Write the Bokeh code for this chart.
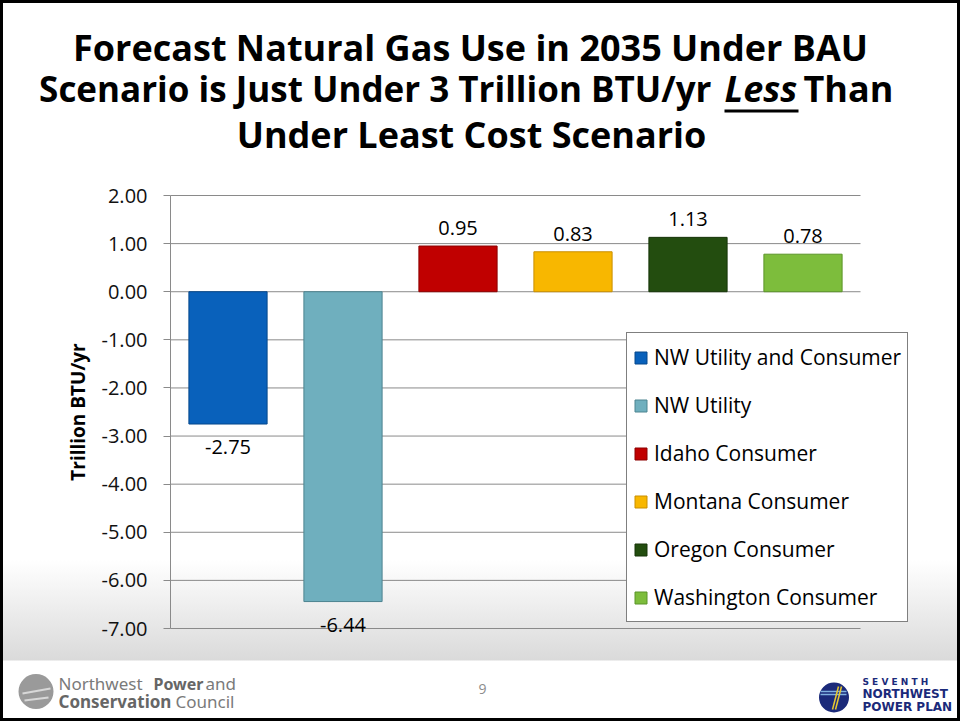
from bokeh.plotting import figure
from bokeh.models import (ColumnDataSource, LabelSet, Range1d, LinearAxis,
                          NumeralTickFormatter, FixedTicker)
from bokeh.core.properties import value
from bokeh.embed import file_html
from bokeh.resources import INLINE

# ---------------- data ----------------
categories = ["NW Utility and Consumer", "NW Utility", "Idaho Consumer",
              "Montana Consumer", "Oregon Consumer", "Washington Consumer"]
values = [-2.75, -6.44, 0.95, 0.83, 1.13, 0.78]
y_ticks = [2, 1, 0, -1, -2, -3, -4, -5, -6, -7]
y_label = "Trillion BTU/yr"
title_line1 = "Forecast Natural Gas Use in 2035 Under BAU"
title_line2a = "Scenario is Just Under 3 Trillion BTU/yr"
title_line2b = "Less"
title_line2c = "Than"
title_line3 = "Under Least Cost Scenario"
page_number = "9"

# ---------------- styles / layout ----------------
fill_colors = ["#0961bb", "#6fafbe", "#c00000", "#f8b700", "#234d0f", "#7dbd3c"]
edge_colors = ["#06488c", "#4d8490", "#8c0000", "#c98f00", "#163508", "#5b9428"]
W, H = 960, 721
PLOT_LEFT, PLOT_TOP, PLOT_BOTTOM = 170, 195, 628   # page pixels of the value axis
CAT_PX = 115                                        # pixels per category
px_per_unit = (PLOT_BOTTOM - PLOT_TOP) / (max(y_ticks) - min(y_ticks))
y_hi = max(y_ticks) + PLOT_TOP / px_per_unit
y_lo = min(y_ticks) - (H - PLOT_BOTTOM) / px_per_unit
x_lo = 0.5 - PLOT_LEFT / CAT_PX
x_hi = 0.5 + (W - PLOT_LEFT) / CAT_PX

p = figure(width=W, height=H,
           x_range=Range1d(x_lo, x_hi), y_range=Range1d(y_lo, y_hi),
           x_axis_location=None, y_axis_location=None,
           output_backend="svg", toolbar_location=None,
           min_border=0, border_fill_color=None, background_fill_color=None,
           outline_line_color=None,
           styles={"background": "linear-gradient(to bottom, #ffffff 0px, #ffffff 560px, #dadada 660px, #ffffff 661px, #ffffff 100%)",
                   "box-shadow": "inset 0 0 0 3px #000000"})
p.extra_x_ranges = {"px": Range1d(0, W)}
p.extra_y_ranges = {"px": Range1d(H, 0)}
p.grid.visible = False

n = len(categories)
xs = list(range(1, n + 1))

# horizontal gridlines
p.segment(x0=[0.5] * len(y_ticks), x1=[n + 0.5] * len(y_ticks), y0=y_ticks, y1=y_ticks,
          line_color="#8a8a8a", line_width=1, level="underlay")

ax = LinearAxis(fixed_location=0.5)
ax.ticker = FixedTicker(ticks=y_ticks)
ax.bounds = (min(y_ticks), max(y_ticks))
ax.formatter = NumeralTickFormatter(format="0.00")
ax.axis_line_color = "#8a8a8a"
ax.major_tick_line_color = "#8a8a8a"
ax.major_tick_out = 7
ax.major_tick_in = 0
ax.minor_tick_line_color = None
ax.major_label_text_font = "Open Sans"
ax.major_label_text_font_size = "20px"
ax.major_label_text_color = "#111111"
ax.major_label_standoff = 16
ax.axis_label = y_label
ax.axis_label_text_font = "Open Sans"
ax.axis_label_text_font_style = "bold"
ax.axis_label_text_font_size = "19px"
ax.axis_label_text_color = "#000000"
ax.axis_label_standoff = 8
p.add_layout(ax, "left")

src = ColumnDataSource(dict(x=xs, cat=categories, val=values, fill=fill_colors, edge=edge_colors))
p.vbar(x="x", top="val", bottom=0, width=0.68, fill_color="fill",
       line_color="edge", line_width=1, source=src, legend_field="cat")

lg = p.legend[0]
lg.location = (626, H - 622)
lg.border_line_color = "#000000"
lg.border_line_width = 1
lg.background_fill_color = "#ffffff"
lg.background_fill_alpha = 1
lg.padding = 6
lg.margin = 0
lg.spacing = 12
lg.label_height = 36
lg.glyph_height = 15
lg.glyph_width = 15
lg.label_standoff = 6
lg.label_text_font = "Open Sans"
lg.label_text_font_size = "21px"
lg.label_text_color = "#000000"

pos_x = [x for x, v in zip(xs, values) if v >= 0]
pos_v = [v for v in values if v >= 0]
neg_x = [x for x, v in zip(xs, values) if v < 0]
neg_v = [v for v in values if v < 0]
pos_src = ColumnDataSource(dict(x=pos_x, val=pos_v, txt=[f"{v:.2f}" for v in pos_v]))
neg_src = ColumnDataSource(dict(x=neg_x, val=neg_v, txt=[f"{v:.2f}" for v in neg_v]))
for s, off in ((pos_src, 11), (neg_src, -30)):
    p.add_layout(LabelSet(x="x", y="val", text="txt", source=s, y_offset=off,
                          text_align="center", text_baseline="alphabetic",
                          text_font=value("Open Sans"), text_font_size="20px",
                          text_color="#000000"))


# ---------------- decorations in page-pixel coordinates ----------------
def txt(x, y, t, size, style="normal", align="left", color="#000000",
        font="Open Sans", baseline="alphabetic"):
    p.text(x=[x], y=[y], text=[t], text_font=value(font), text_font_size=value(size),
           text_font_style=value(style), text_align=value(align),
           text_baseline=value(baseline), text_color=color,
           x_range_name="px", y_range_name="px")


def seg(x0, x1, y0, y1, color, width):
    p.segment(x0=x0, x1=x1, y0=y0, y1=y1, line_color=color, line_width=width,
              x_range_name="px", y_range_name="px")


# title
txt(470, 47, title_line1, "36px", "bold", "center")
txt(711, 88, title_line2a, "35px", "bold", "right")
txt(724, 88, title_line2b, "36px", "bold italic", "left")
txt(803, 88, title_line2c, "36px", "bold", "left")
txt(471, 134, title_line3, "36px", "bold", "center")
seg([724], [798], [110.5], [110.5], "#000000", 3)

# footer
p.scatter(x=[35.5], y=[691], size=35, marker="circle", fill_color="#9a9a9a", line_color=None,
          x_range_name="px", y_range_name="px")
seg([22, 24], [50, 48], [693, 700], [688, 697], "#d8d8d8", 2)
txt(58, 683, "Northwest", "17px", "normal", color="#7a7a7a", font="Noto Sans")
txt(153, 683, "Power", "16px", "bold", color="#666666", font="Noto Sans")
txt(205, 683, "and", "17px", "normal", color="#7a7a7a", font="Noto Sans")
txt(58, 701, "Conservation", "17px", "bold", color="#666666", font="Noto Sans")
txt(175, 701, "Council", "17px", "normal", color="#7a7a7a", font="Noto Sans")
txt(482, 688, page_number, "14px", "normal", "center", color="#8c8c8c", baseline="middle")

p.scatter(x=[833.5], y=[697], size=30, marker="circle", fill_color="#1b2a7a", line_color=None,
          x_range_name="px", y_range_name="px")
seg([820, 820], [846, 846], [691, 694], [691, 694], "#7fb0e0", 1.5)
seg([838, 841], [832, 835], [686, 686], [709, 709], "#e8c830", 1.5)
txt(862, 681, "S E V E N T H", "9px", "bold", color="#1b2a7a", font="DejaVu Sans", baseline="middle")
txt(862, 693, "NORTHWEST", "12px", "bold", color="#1b2a7a", font="DejaVu Sans", baseline="middle")
txt(862, 706, "POWER PLAN", "12px", "bold", color="#1b2a7a", font="DejaVu Sans", baseline="middle")

open("out.html", "w").write(file_html(p, INLINE))
